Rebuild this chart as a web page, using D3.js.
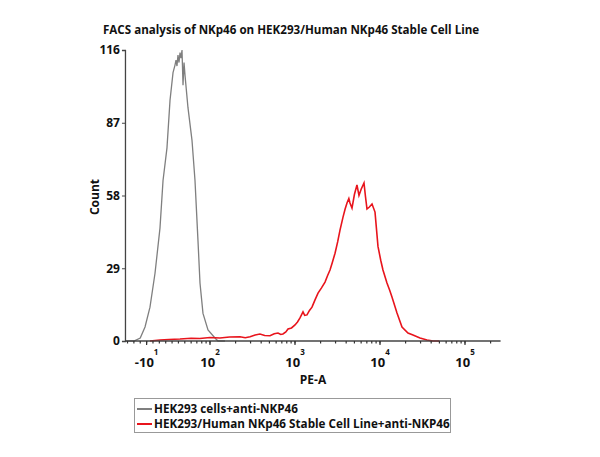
<!DOCTYPE html>
<html>
<head>
<meta charset="utf-8">
<script src="https://cdn.jsdelivr.net/npm/d3@7"></script>
<style>
  body { margin: 0; background: #fff; }
  text { font-family: "Open Sans", "Noto Sans", sans-serif; font-weight: bold; fill: #111; }
</style>
</head>
<body>
<script>
(function () {
  'use strict';

  // 数据: PE-A 值 与 计数
  const grayX = [-44, -30, -20, -12.5, -4.7, 3.2, 11, 15.8, 22, 26.8, 31.5, 34.6, 36.2, 37.7, 39.3, 40.9, 42.5, 44, 45.6, 47.2, 48.8, 50.3, 55, 61.4, 66.6, 72.2, 76.3, 82.7, 94.7, 114.5, 124, 150];
  const grayY = [0, 0, 1.2, 5.6, 13.5, 27, 45, 64, 77, 96, 107, 110, 112, 109.6, 114, 111, 115, 112.8, 116, 102, 111, 106, 93, 80, 64, 40, 23, 11, 4.4, 1.2, 0, 0];

  const redX = [-4.7, 11, 25, 42.5, 60, 76, 100, 131, 170, 225, 260, 296, 340, 387, 440, 508, 570, 631, 680, 722, 780, 828, 910, 1000, 1070, 1145, 1242, 1300, 1384, 1480, 1585, 1720, 1866, 2050, 2255, 2420, 2582, 2760, 2958, 3180, 3384, 3672, 3880, 4090, 4300, 4436, 4683, 5000, 5358, 5658, 6000, 6482, 6750, 7031, 7500, 8058, 8737, 9468, 10200, 10836, 12080, 13000, 13829, 15848, 18146, 21330, 24433, 29560, 35740, 42070, 50000];
  const redY = [0, 0.4, 0.6, 0.8, 1.1, 1, 1.4, 1.2, 1.6, 1.7, 1.3, 1.7, 2.4, 2.8, 2.2, 2.1, 2.9, 3.2, 2.6, 2.8, 3.6, 4.8, 5.2, 6.4, 7.6, 9.2, 11.6, 10.2, 10.4, 12.2, 13.5, 16.4, 19.1, 21.2, 23.5, 26.1, 28.3, 31.5, 35, 39.6, 44.2, 49.4, 52.5, 55, 56.8, 55, 53, 58.4, 62.2, 58, 60.5, 63, 57.5, 52.6, 53.4, 54.6, 51.4, 37.7, 32.2, 28.3, 23.1, 20.2, 17.5, 11.2, 5.6, 3.2, 2.4, 1.2, 0.4, 0, 0];

  const yTicks = [0, 29, 58, 87, 116];
  const xMajor = [-10, 100, 1000, 10000, 100000];
  const xMajorText = [{b: "-10", e: "1"}, {b: "10", e: "2"}, {b: "10", e: "3"}, {b: "10", e: "4"}, {b: "10", e: "5"}];
  const seriesNames = ["HEK293 cells+anti-NKP46", "HEK293/Human NKp46 Stable Cell Line+anti-NKP46"];
  const seriesColors = ["#7f7f7f", "#e8141c"];

  var W = 600, H = 457;
  var svg = d3.select("body").append("svg").attr("width", W).attr("height", H);

  // 双指数近似: v0 以下线性, 以上 log10
  var v0 = 58;
  function tr(v) {
    if (v >= v0) return Math.log10(v);
    return Math.log10(v0) + (v - v0) / (v0 * Math.LN10);
  }

  var decade = d3.scaleLinear().domain([2, 5]).range([210, 465]);
  var xMin = -44, xMax = 262144;
  function x(v) { return decade(tr(v)); }

  var y = d3.scaleLinear().domain([0, 116]).range([341, 50]);

  svg.append("text").attr("x", 103).attr("y", 34).attr("font-size", 11.6).text("FACS analysis of NKp46 on HEK293/Human NKp46 Stable Cell Line");

  // 曲线
  var line = d3.line().x(function (d) { return x(d[0]); }).y(function (d) { return y(d[1]); });
  var gray = grayX.map(function (v, i) { return [v, grayY[i]]; });
  var red = redX.map(function (v, i) { return [v, redY[i]]; });

  svg.append("path").datum(gray).attr("d", line).attr("fill", "none").attr("stroke", seriesColors[0]).attr("stroke-width", 1.3);
  svg.append("path").datum(red).attr("d", line).attr("fill", "none").attr("stroke", seriesColors[1]).attr("stroke-width", 1.6);

  // y 轴
  var yAxis = d3.axisLeft(y).tickValues(yTicks).tickSize(3).tickPadding(2);
  var gy = svg.append("g").attr("transform", "translate(" + x(xMin) + ",0)").call(yAxis);
  gy.select(".domain").attr("stroke", "#444").attr("stroke-width", 1.3);
  gy.selectAll(".tick line").attr("stroke", "#444");
  gy.selectAll("text").attr("font-size", 12).attr("font-family", null).attr("fill", "#111");

  // x 轴
  var minor = [];
  for (var m = -40; m < 60; m += 10) minor.push(m);
  [10, 100, 1000, 10000, 100000].forEach(function (b) {
    for (var k = 1; k < 10; k++) {
      var v = b * k;
      if (v >= 60 && v <= xMax) minor.push(v);
    }
  });
  var gx = svg.append("g");
  gx.append("line").attr("x1", x(xMin)).attr("x2", x(xMax)).attr("y1", 341).attr("y2", 341).attr("stroke", "#444").attr("stroke-width", 1.5);
  gx.selectAll("line.minor").data(minor).enter().append("line").attr("class", "minor")
    .attr("x1", function (d) { return x(d); }).attr("x2", function (d) { return x(d); })
    .attr("y1", 341).attr("y2", 343.5).attr("stroke", "#333").attr("stroke-width", 1.2);
  gx.selectAll("line.major").data(xMajor).enter().append("line").attr("class", "major")
    .attr("x1", function (d) { return x(d); }).attr("x2", function (d) { return x(d); })
    .attr("y1", 341).attr("y2", 345).attr("stroke", "#333").attr("stroke-width", 1.2);

  var lab = gx.selectAll("text.xl").data(xMajor).enter().append("text").attr("class", "xl")
    .attr("x", function (d) { return x(d); }).attr("y", 367).attr("text-anchor", "middle").attr("font-size", 13);
  lab.append("tspan").text(function (d, i) { return xMajorText[i].b; });
  lab.append("tspan").attr("dy", -12).attr("font-size", 8).text(function (d, i) { return xMajorText[i].e; });

  svg.append("text").attr("x", 313).attr("y", 384).attr("text-anchor", "middle").attr("font-size", 12).text("PE-A");
  svg.append("text").attr("transform", "translate(99,197) rotate(-90)").attr("text-anchor", "middle").attr("font-size", 12).text("Count");

  // 图例
  var lg = svg.append("g");
  lg.append("rect").attr("x", 134.5).attr("y", 398.5).attr("width", 316).attr("height", 34).attr("fill", "#fff").attr("stroke", "#999");
  seriesNames.forEach(function (n, i) {
    var yy = 409 + i * 15;
    lg.append("line").attr("x1", 137).attr("x2", 152).attr("y1", yy).attr("y2", yy).attr("stroke", seriesColors[i]).attr("stroke-width", 2);
    lg.append("text").attr("x", 154).attr("y", yy + 4).attr("font-size", 11.7).text(n);
  });
})();
</script>
</body>
</html>
